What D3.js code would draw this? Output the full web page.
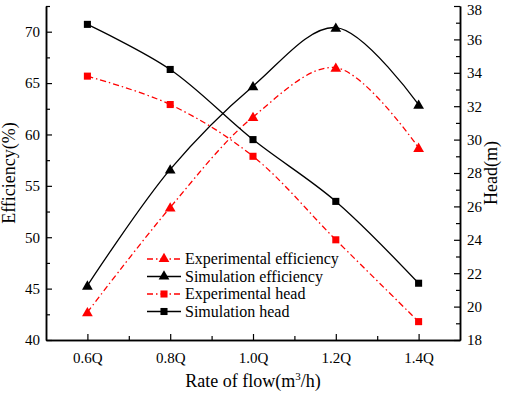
<!DOCTYPE html>
<html>
<head>
<meta charset="utf-8">
<script src="https://cdn.jsdelivr.net/npm/d3@7"></script>
<style>
  body { margin: 0; background: #fff; }
  svg text { font-family: "Times New Roman", "Liberation Serif", "DejaVu Serif", serif !important; }
</style>
</head>
<body>
<div id="chart"></div>
<script>
// flow rate categories (fraction of Q)
var flow = [0.6, 0.8, 1.0, 1.2, 1.4];
var flowLabels = ["0.6Q", "0.8Q", "1.0Q", "1.2Q", "1.4Q"];

// efficiency (%) - left axis
var expEff = [42.7, 52.9, 61.7, 66.5, 58.7];
var simEff = [45.3, 56.6, 64.7, 70.4, 62.9];

// head (m) - right axis
var expHead = [33.8, 32.1, 29.0, 24.0, 19.1];
var simHead = [36.9, 34.2, 30.0, 26.3, 21.4];

var effTicks = [40, 45, 50, 55, 60, 65, 70];
var headTicks = [18, 20, 22, 24, 26, 28, 30, 32, 34, 36, 38];

var w = 505, h = 393;
var pLeft = 46, pRight = 460, pTop = 6, pBottom = 340;
var serif = "'Times New Roman', 'Liberation Serif', serif";

var svg = d3.select("#chart").append("svg")
    .attr("width", w)
    .attr("height", h)
    .attr("font-family", serif);

var x = d3.scaleLinear().domain([0.5, 1.5]).range([pLeft, pRight]);
var yL = d3.scaleLinear().domain([40, 72.5]).range([pBottom, pTop]);
var yR = d3.scaleLinear().domain([18, 38]).range([pBottom, pTop]);

// axes: ticks point inward
var xAxis = d3.axisBottom(x).tickValues(flow).tickSizeInner(-6).tickSizeOuter(0)
    .tickPadding(12).tickFormat(function(d, i) { return flowLabels[i]; });
var xMinor = d3.axisBottom(x).tickValues([0.7, 0.9, 1.1, 1.3]).tickSizeInner(-4).tickSizeOuter(0).tickFormat("");

var yAxisL = d3.axisLeft(yL).tickValues(effTicks).tickSizeInner(-6).tickSizeOuter(0).tickPadding(6);
var yMinorL = d3.axisLeft(yL).tickValues([42.5, 47.5, 52.5, 57.5, 62.5, 67.5, 72.5]).tickSizeInner(-4).tickSizeOuter(0).tickFormat("");

var yAxisR = d3.axisRight(yR).tickValues(headTicks).tickSizeInner(-6).tickSizeOuter(0).tickPadding(7);
var yMinorR = d3.axisRight(yR).tickValues(d3.range(19, 38, 2)).tickSizeInner(-4).tickSizeOuter(0).tickFormat("");

function styleAxis(g) {
  g.attr("font-family", serif).attr("font-size", 15);
  g.select(".domain").attr("stroke", "#000").attr("stroke-width", 1.5);
  g.selectAll(".tick line").attr("stroke", "#000").attr("stroke-width", 1.2);
  g.selectAll(".tick text").attr("fill", "#000");
}

svg.append("g").attr("transform", "translate(0," + pBottom + ")").call(xMinor).call(styleAxis);
svg.append("g").attr("transform", "translate(0," + pBottom + ")").call(xAxis).call(styleAxis);
svg.append("g").attr("transform", "translate(" + pLeft + ",0)").call(yMinorL).call(styleAxis);
svg.append("g").attr("transform", "translate(" + pLeft + ",0)").call(yAxisL).call(styleAxis);
svg.append("g").attr("transform", "translate(" + pRight + ",0)").call(yMinorR).call(styleAxis);
var rAxis = svg.append("g").attr("transform", "translate(" + pRight + ",0)").call(yAxisR).call(styleAxis);
// top label sits right at the edge, nudge it down a bit
rAxis.selectAll(".tick text").filter(function(d) { return d == 38; }).attr("dy", "0.55em");

// axis titles
svg.append("text")
    .attr("transform", "translate(15," + ((pTop + pBottom) / 2) + ") rotate(-90)")
    .attr("text-anchor", "middle")
    .attr("font-size", 18)
    .text("Efficiency(%)");

svg.append("text")
    .attr("transform", "translate(497," + ((pTop + pBottom) / 2) + ") rotate(-90)")
    .attr("text-anchor", "middle")
    .attr("font-size", 18)
    .text("Head(m)");

var xt = svg.append("text")
    .attr("x", (pLeft + pRight) / 2)
    .attr("y", 387)
    .attr("text-anchor", "middle")
    .attr("font-size", 18);
xt.append("tspan").text("Rate of flow(m");
xt.append("tspan").attr("font-size", 11).attr("dy", -7).text("3");
xt.append("tspan").attr("dy", 7).text("/h)");

var series = [
  { name: "Experimental efficiency", vals: expEff, y: yL, color: "#ff0000", dash: "6,3,1.5,3", marker: "triangle" },
  { name: "Simulation efficiency", vals: simEff, y: yL, color: "#000", dash: null, marker: "triangle" },
  { name: "Experimental head", vals: expHead, y: yR, color: "#ff0000", dash: "6,3,1.5,3", marker: "square" },
  { name: "Simulation head", vals: simHead, y: yR, color: "#000", dash: null, marker: "square" }
];

var triangle = d3.symbol().type(d3.symbolTriangle).size(50);
var square = d3.symbol().type(d3.symbolSquare).size(50);

series.forEach(function(s) {
  var line = d3.line()
      .x(function(d, i) { return x(flow[i]); })
      .y(function(d) { return s.y(d); })
      .curve(d3.curveCatmullRom.alpha(0.5));

  svg.append("path")
      .datum(s.vals)
      .attr("d", line)
      .attr("fill", "none")
      .attr("stroke", s.color)
      .attr("stroke-width", 1.3)
      .attr("stroke-dasharray", s.dash);

  svg.selectAll(null)
      .data(s.vals)
      .enter().append("path")
      .attr("d", s.marker == "triangle" ? triangle : square)
      .attr("transform", function(d, i) { return "translate(" + x(flow[i]) + "," + (s.y(d) + (s.marker == "triangle" ? 1 : 0)) + ")"; })
      .attr("fill", s.color);
});

// legend
var legend = svg.append("g").attr("transform", "translate(147,259)");
series.forEach(function(s, i) {
  var g = legend.append("g").attr("transform", "translate(0," + (i * 17.5) + ")");
  g.append("line")
      .attr("x1", 0).attr("x2", 34)
      .attr("y1", 0).attr("y2", 0)
      .attr("stroke", s.color)
      .attr("stroke-width", 1.3)
      .attr("stroke-dasharray", s.dash);
  g.append("path")
      .attr("d", s.marker == "triangle" ? triangle : square)
      .attr("transform", "translate(17,0)")
      .attr("fill", s.color);
  g.append("text")
      .attr("x", 38)
      .attr("y", 5)
      .attr("font-size", 16)
      .text(s.name);
});
</script>
</body>
</html>
